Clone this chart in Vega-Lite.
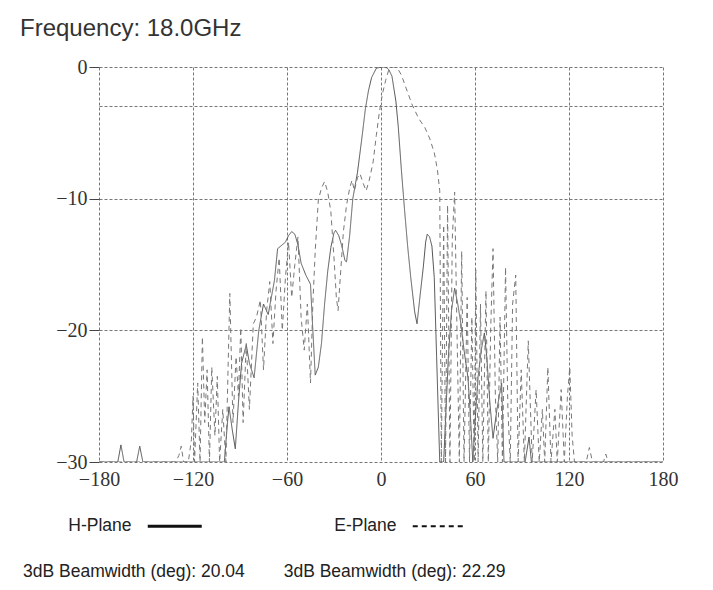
{
  "$schema": "https://vega.github.io/schema/vega-lite/v6.json",
  "width": 564,
  "height": 395,
  "autosize": {"type": "none"},
  "padding": {"left": 99, "top": 67, "right": 50, "bottom": 128},
  "background": "white",
  "config": {"view": {"stroke": null}, "font": "Liberation Sans"},
  "title": {"text": "Frequency: 18.0GHz", "anchor": "start", "frame": "group", "dx": -79, "offset": 16, "fontSize": 24, "fontWeight": "normal", "font": "Liberation Sans", "color": "#333"},
  "datasets": {
    "h": [
      {"plane":"H-Plane","deg":-180,"db":-30},{"plane":"H-Plane","deg":-168,"db":-30},{"plane":"H-Plane","deg":-166,"db":-28.7},{"plane":"H-Plane","deg":-164,"db":-30},
      {"plane":"H-Plane","deg":-156,"db":-30},{"plane":"H-Plane","deg":-154,"db":-28.8},{"plane":"H-Plane","deg":-152,"db":-30},
      {"plane":"H-Plane","deg":-100,"db":-30},{"plane":"H-Plane","deg":-98,"db":-27},{"plane":"H-Plane","deg":-97,"db":-25.8},{"plane":"H-Plane","deg":-95,"db":-27.5},{"plane":"H-Plane","deg":-93,"db":-29},
      {"plane":"H-Plane","deg":-91,"db":-25.5},{"plane":"H-Plane","deg":-89,"db":-22.5},{"plane":"H-Plane","deg":-86,"db":-21.1},{"plane":"H-Plane","deg":-84,"db":-22.5},{"plane":"H-Plane","deg":-81,"db":-23.6},
      {"plane":"H-Plane","deg":-78,"db":-20},{"plane":"H-Plane","deg":-75,"db":-18},{"plane":"H-Plane","deg":-72,"db":-18.8},{"plane":"H-Plane","deg":-70,"db":-17.5},{"plane":"H-Plane","deg":-68,"db":-16.2},
      {"plane":"H-Plane","deg":-66,"db":-13.8},{"plane":"H-Plane","deg":-63,"db":-13.5},{"plane":"H-Plane","deg":-61,"db":-13.3},{"plane":"H-Plane","deg":-59,"db":-12.8},{"plane":"H-Plane","deg":-57,"db":-12.5},
      {"plane":"H-Plane","deg":-55,"db":-12.7},{"plane":"H-Plane","deg":-53,"db":-13.5},{"plane":"H-Plane","deg":-51,"db":-14.9},{"plane":"H-Plane","deg":-48,"db":-15.8},{"plane":"H-Plane","deg":-45,"db":-16.5},
      {"plane":"H-Plane","deg":-43.5,"db":-20},{"plane":"H-Plane","deg":-42,"db":-23.4},{"plane":"H-Plane","deg":-40,"db":-22.8},{"plane":"H-Plane","deg":-38,"db":-21},{"plane":"H-Plane","deg":-36,"db":-18},
      {"plane":"H-Plane","deg":-34,"db":-15.5},{"plane":"H-Plane","deg":-32,"db":-13.7},{"plane":"H-Plane","deg":-30,"db":-12.6},{"plane":"H-Plane","deg":-29,"db":-12.4},{"plane":"H-Plane","deg":-27,"db":-12.8},
      {"plane":"H-Plane","deg":-25,"db":-13.6},{"plane":"H-Plane","deg":-23,"db":-14.7},{"plane":"H-Plane","deg":-22,"db":-14.8},{"plane":"H-Plane","deg":-20,"db":-12.8},{"plane":"H-Plane","deg":-18,"db":-10},
      {"plane":"H-Plane","deg":-15,"db":-8},{"plane":"H-Plane","deg":-12,"db":-5.2},{"plane":"H-Plane","deg":-10,"db":-3.2},{"plane":"H-Plane","deg":-8,"db":-1.8},{"plane":"H-Plane","deg":-6,"db":-0.8},
      {"plane":"H-Plane","deg":-3,"db":-0.1},{"plane":"H-Plane","deg":0,"db":0},{"plane":"H-Plane","deg":3,"db":0},{"plane":"H-Plane","deg":5,"db":-0.2},{"plane":"H-Plane","deg":7,"db":-0.7},
      {"plane":"H-Plane","deg":9.5,"db":-2.6},{"plane":"H-Plane","deg":11,"db":-4.5},{"plane":"H-Plane","deg":13,"db":-7.8},{"plane":"H-Plane","deg":15,"db":-10.8},{"plane":"H-Plane","deg":17,"db":-13.6},
      {"plane":"H-Plane","deg":19,"db":-16},{"plane":"H-Plane","deg":21.5,"db":-18.6},{"plane":"H-Plane","deg":23,"db":-19.5},{"plane":"H-Plane","deg":25,"db":-17.3},{"plane":"H-Plane","deg":27,"db":-15.2},
      {"plane":"H-Plane","deg":28.5,"db":-13.3},{"plane":"H-Plane","deg":29.5,"db":-12.7},{"plane":"H-Plane","deg":31,"db":-12.9},{"plane":"H-Plane","deg":32.5,"db":-13.6},{"plane":"H-Plane","deg":34,"db":-16},
      {"plane":"H-Plane","deg":35.5,"db":-22},{"plane":"H-Plane","deg":37.5,"db":-30},{"plane":"H-Plane","deg":40,"db":-30},{"plane":"H-Plane","deg":41.5,"db":-26},{"plane":"H-Plane","deg":43,"db":-22},
      {"plane":"H-Plane","deg":45,"db":-18.5},{"plane":"H-Plane","deg":47,"db":-16.8},{"plane":"H-Plane","deg":49,"db":-18},{"plane":"H-Plane","deg":51,"db":-19.5},{"plane":"H-Plane","deg":53,"db":-21.5},
      {"plane":"H-Plane","deg":55.5,"db":-23.6},{"plane":"H-Plane","deg":57,"db":-26.3},{"plane":"H-Plane","deg":58.6,"db":-30},{"plane":"H-Plane","deg":60,"db":-27},{"plane":"H-Plane","deg":62,"db":-23.5},
      {"plane":"H-Plane","deg":64,"db":-21.5},{"plane":"H-Plane","deg":66,"db":-20.2},{"plane":"H-Plane","deg":67.5,"db":-22},{"plane":"H-Plane","deg":69.5,"db":-25.5},{"plane":"H-Plane","deg":71.5,"db":-28.2},
      {"plane":"H-Plane","deg":74,"db":-26},{"plane":"H-Plane","deg":77,"db":-24},{"plane":"H-Plane","deg":78.5,"db":-30},{"plane":"H-Plane","deg":92,"db":-30},{"plane":"H-Plane","deg":94.5,"db":-28.1},
      {"plane":"H-Plane","deg":96,"db":-30},{"plane":"H-Plane","deg":180,"db":-30}
    ],
    "e": [
      {"plane":"E-Plane","deg":-180,"db":-30},{"plane":"E-Plane","deg":-131,"db":-30},{"plane":"E-Plane","deg":-129,"db":-29.5},{"plane":"E-Plane","deg":-127.5,"db":-28.8},{"plane":"E-Plane","deg":-126,"db":-30},
      {"plane":"E-Plane","deg":-123,"db":-30},{"plane":"E-Plane","deg":-121,"db":-28.3},{"plane":"E-Plane","deg":-120,"db":-25},{"plane":"E-Plane","deg":-119,"db":-30},{"plane":"E-Plane","deg":-117,"db":-24},
      {"plane":"E-Plane","deg":-115.5,"db":-30},{"plane":"E-Plane","deg":-114,"db":-20.5},{"plane":"E-Plane","deg":-112.5,"db":-27},{"plane":"E-Plane","deg":-111,"db":-23},{"plane":"E-Plane","deg":-109.5,"db":-30},
      {"plane":"E-Plane","deg":-108,"db":-22.8},{"plane":"E-Plane","deg":-106,"db":-28},{"plane":"E-Plane","deg":-104.5,"db":-23.5},{"plane":"E-Plane","deg":-103,"db":-30},{"plane":"E-Plane","deg":-101,"db":-26},
      {"plane":"E-Plane","deg":-99,"db":-30},{"plane":"E-Plane","deg":-96.5,"db":-17.2},{"plane":"E-Plane","deg":-94.5,"db":-27},{"plane":"E-Plane","deg":-92.5,"db":-22},{"plane":"E-Plane","deg":-91,"db":-25},
      {"plane":"E-Plane","deg":-89.5,"db":-19.8},{"plane":"E-Plane","deg":-88,"db":-27},{"plane":"E-Plane","deg":-86,"db":-21},{"plane":"E-Plane","deg":-84,"db":-26},{"plane":"E-Plane","deg":-81.5,"db":-19.5},
      {"plane":"E-Plane","deg":-79.5,"db":-19},{"plane":"E-Plane","deg":-77,"db":-17.7},{"plane":"E-Plane","deg":-75,"db":-23},{"plane":"E-Plane","deg":-73,"db":-18.5},{"plane":"E-Plane","deg":-71,"db":-16.3},
      {"plane":"E-Plane","deg":-69,"db":-21},{"plane":"E-Plane","deg":-67,"db":-17},{"plane":"E-Plane","deg":-65,"db":-14.5},{"plane":"E-Plane","deg":-63,"db":-20},{"plane":"E-Plane","deg":-61,"db":-16},
      {"plane":"E-Plane","deg":-59,"db":-13.3},{"plane":"E-Plane","deg":-57,"db":-17.5},{"plane":"E-Plane","deg":-55,"db":-15},{"plane":"E-Plane","deg":-53,"db":-12.9},{"plane":"E-Plane","deg":-51,"db":-19},
      {"plane":"E-Plane","deg":-49,"db":-21.5},{"plane":"E-Plane","deg":-47,"db":-18},{"plane":"E-Plane","deg":-45,"db":-24},{"plane":"E-Plane","deg":-43.5,"db":-18},{"plane":"E-Plane","deg":-42,"db":-14},
      {"plane":"E-Plane","deg":-40,"db":-10.1},{"plane":"E-Plane","deg":-38,"db":-9.2},{"plane":"E-Plane","deg":-36,"db":-8.7},{"plane":"E-Plane","deg":-34,"db":-9.5},{"plane":"E-Plane","deg":-32,"db":-11},
      {"plane":"E-Plane","deg":-30,"db":-14.5},{"plane":"E-Plane","deg":-28.5,"db":-17.5},{"plane":"E-Plane","deg":-27.4,"db":-18.5},{"plane":"E-Plane","deg":-26,"db":-16},{"plane":"E-Plane","deg":-24,"db":-12.5},
      {"plane":"E-Plane","deg":-22,"db":-10.5},{"plane":"E-Plane","deg":-20,"db":-9.2},{"plane":"E-Plane","deg":-18.5,"db":-8.6},{"plane":"E-Plane","deg":-17,"db":-9.4},{"plane":"E-Plane","deg":-15,"db":-8.4},
      {"plane":"E-Plane","deg":-13.4,"db":-8.1},{"plane":"E-Plane","deg":-11.5,"db":-8.8},{"plane":"E-Plane","deg":-9.5,"db":-9.4},{"plane":"E-Plane","deg":-7.5,"db":-8.6},{"plane":"E-Plane","deg":-5,"db":-7.2},
      {"plane":"E-Plane","deg":-3,"db":-5.2},{"plane":"E-Plane","deg":-1,"db":-3.4},{"plane":"E-Plane","deg":1,"db":-2},{"plane":"E-Plane","deg":3,"db":-1},{"plane":"E-Plane","deg":5,"db":-0.2},
      {"plane":"E-Plane","deg":7,"db":0},{"plane":"E-Plane","deg":10,"db":0},{"plane":"E-Plane","deg":13,"db":-0.6},{"plane":"E-Plane","deg":16,"db":-1.6},{"plane":"E-Plane","deg":20,"db":-2.9},
      {"plane":"E-Plane","deg":24,"db":-3.9},{"plane":"E-Plane","deg":28,"db":-4.6},{"plane":"E-Plane","deg":31,"db":-5.4},{"plane":"E-Plane","deg":34,"db":-6.5},{"plane":"E-Plane","deg":36,"db":-7.8},
      {"plane":"E-Plane","deg":37.5,"db":-9.4},{"plane":"E-Plane","deg":38.5,"db":-30},{"plane":"E-Plane","deg":40,"db":-12},{"plane":"E-Plane","deg":41.2,"db":-30},{"plane":"E-Plane","deg":42.5,"db":-10.5},
      {"plane":"E-Plane","deg":44,"db":-30},{"plane":"E-Plane","deg":45.5,"db":-13},{"plane":"E-Plane","deg":47,"db":-9.5},{"plane":"E-Plane","deg":48.5,"db":-20},{"plane":"E-Plane","deg":50,"db":-30},
      {"plane":"E-Plane","deg":51.5,"db":-14},{"plane":"E-Plane","deg":53,"db":-30},{"plane":"E-Plane","deg":55,"db":-17.5},{"plane":"E-Plane","deg":56.5,"db":-30},{"plane":"E-Plane","deg":58,"db":-19},
      {"plane":"E-Plane","deg":59.5,"db":-30},{"plane":"E-Plane","deg":60.5,"db":-15.4},{"plane":"E-Plane","deg":62,"db":-30},{"plane":"E-Plane","deg":63.5,"db":-18},{"plane":"E-Plane","deg":65,"db":-30},
      {"plane":"E-Plane","deg":67,"db":-17},{"plane":"E-Plane","deg":68.5,"db":-30},{"plane":"E-Plane","deg":70,"db":-20},{"plane":"E-Plane","deg":71.5,"db":-13.8},{"plane":"E-Plane","deg":73,"db":-25},
      {"plane":"E-Plane","deg":74.5,"db":-30},{"plane":"E-Plane","deg":76,"db":-19},{"plane":"E-Plane","deg":77.5,"db":-30},{"plane":"E-Plane","deg":79.5,"db":-15.2},{"plane":"E-Plane","deg":81,"db":-26},
      {"plane":"E-Plane","deg":82.5,"db":-30},{"plane":"E-Plane","deg":84,"db":-18},{"plane":"E-Plane","deg":86,"db":-15.8},{"plane":"E-Plane","deg":87.5,"db":-30},{"plane":"E-Plane","deg":89.5,"db":-23},
      {"plane":"E-Plane","deg":91.5,"db":-30},{"plane":"E-Plane","deg":94,"db":-20.8},{"plane":"E-Plane","deg":96.5,"db":-30},{"plane":"E-Plane","deg":99,"db":-24.5},{"plane":"E-Plane","deg":101,"db":-30},
      {"plane":"E-Plane","deg":103,"db":-26},{"plane":"E-Plane","deg":104.5,"db":-30},{"plane":"E-Plane","deg":106.5,"db":-22.8},{"plane":"E-Plane","deg":108.5,"db":-30},{"plane":"E-Plane","deg":111,"db":-26},
      {"plane":"E-Plane","deg":112.5,"db":-30},{"plane":"E-Plane","deg":115,"db":-24.5},{"plane":"E-Plane","deg":117,"db":-30},{"plane":"E-Plane","deg":119,"db":-25},{"plane":"E-Plane","deg":120.5,"db":-22.8},
      {"plane":"E-Plane","deg":122,"db":-28},{"plane":"E-Plane","deg":123.5,"db":-30},{"plane":"E-Plane","deg":131,"db":-30},{"plane":"E-Plane","deg":133,"db":-28.9},{"plane":"E-Plane","deg":135,"db":-30},
      {"plane":"E-Plane","deg":142,"db":-30},{"plane":"E-Plane","deg":143.5,"db":-29.4},{"plane":"E-Plane","deg":145,"db":-30},{"plane":"E-Plane","deg":180,"db":-30}
    ]
  },
  "layer": [
    {
      "data": {"name": "h"},
      "mark": {"type": "line", "clip": true, "strokeWidth": 1, "color": "#555"},
      "encoding": {
        "x": {"field": "deg", "type": "quantitative", "scale": {"domain": [-180, 180], "nice": false, "zero": false},
          "axis": {"values": [-180, -120, -60, 0, 60, 120, 180], "title": null, "domain": false, "ticks": false, "labelPadding": 7, "labelFlush": false, "labelOverlap": false,
            "labelFont": "Liberation Serif", "labelFontSize": 20, "labelColor": "#333", "grid": true, "gridColor": "#777", "gridDash": [3, 2], "gridWidth": 1}},
        "y": {"field": "db", "type": "quantitative", "scale": {"domain": [-30, 0], "nice": false, "zero": false},
          "axis": {"values": [0, -3, -10, -20, -30], "title": null, "domain": false, "tickSize": 10, "tickColor": "#444",
            "tickOpacity": {"condition": {"test": "datum.value === -3", "value": 0}, "value": 1},
            "labelExpr": "datum.value === -3 ? '' : datum.label", "labelPadding": 2, "labelFlush": false, "labelOverlap": false,
            "labelFont": "Liberation Serif", "labelFontSize": 20, "labelColor": "#333", "grid": true, "gridColor": "#777", "gridDash": [3, 2], "gridWidth": 1}},
        "strokeDash": {"field": "plane", "type": "nominal", "scale": {"domain": ["H-Plane", "E-Plane"], "range": [[1, 0], [5, 4]]},
          "legend": {"orient": "none", "legendX": -76, "legendY": 450, "direction": "horizontal", "columns": 2,
            "title": "3dB Beamwidth (deg): 20.04\u00a0\u00a0\u00a0\u00a0\u00a0\u00a0\u00a0 3dB Beamwidth (deg): 22.29",
            "titleOrient": "bottom", "titleAnchor": "start", "titleAlign": "left", "titleFont": "Liberation Sans", "titleFontSize": 17.5, "titleFontWeight": "normal", "titleColor": "#222", "titlePadding": 28, "titleLimit": 800,
            "labelFont": "Liberation Sans", "labelFontSize": 17.5, "labelColor": "#222", "labelAlign": "right", "labelOffset": -52, "labelLimit": 300,
            "symbolType": "stroke", "symbolSize": 2916, "symbolOffset": 143, "symbolStrokeColor": "#111", "symbolStrokeWidth": 2.5, "columnPadding": 80, "padding": 0,
            "encode": {"symbols": {"update": {"stroke": {"value": "#111"}, "strokeWidth": {"signal": "datum.value === 'H-Plane' ? 3 : 2"}}}}}}
      }
    },
    {
      "data": {"name": "e"},
      "mark": {"type": "line", "clip": true, "strokeWidth": 1, "color": "#777"},
      "encoding": {
        "x": {"field": "deg", "type": "quantitative"},
        "y": {"field": "db", "type": "quantitative"},
        "strokeDash": {"field": "plane", "type": "nominal"}
      }
    }
  ]
}
